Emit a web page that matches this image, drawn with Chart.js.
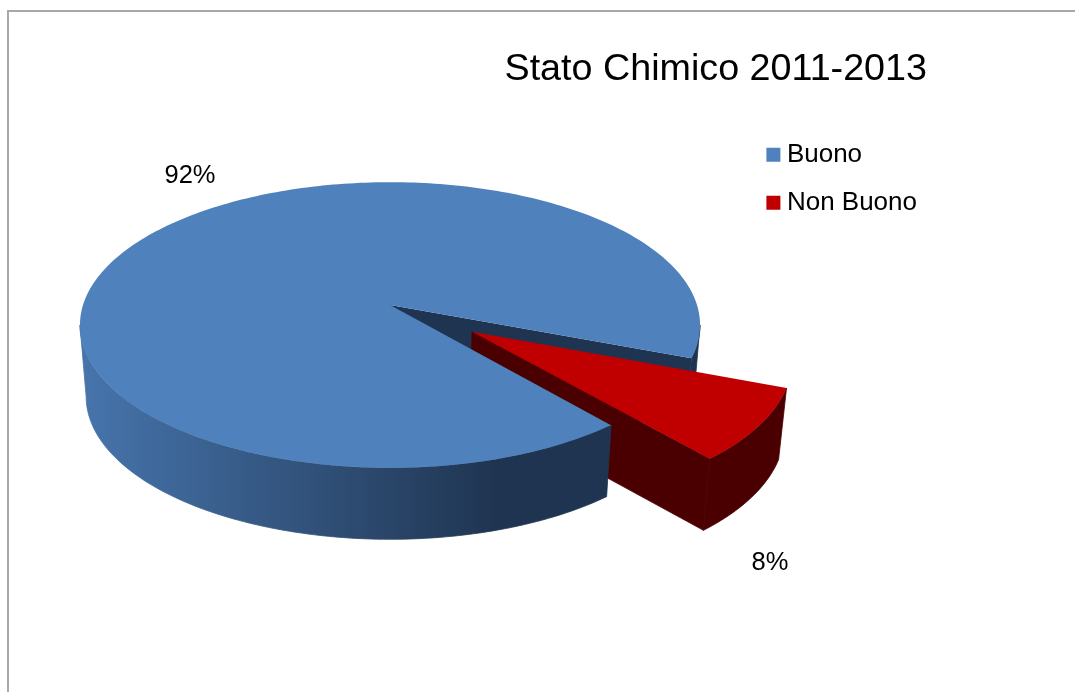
<!DOCTYPE html>
<html lang="it">
<head>
    <meta charset="UTF-8">
    <title>Stato Chimico 2011-2013</title>
    <style>
      body { margin: 0; background: #fff; overflow: hidden; }
      #frame { position: absolute; left: 7px; top: 10px; width: 1100px; height: 720px; border-left: 2px solid #a8a8a8; border-top: 2px solid #a8a8a8; }
      canvas { position: absolute; left: 0; top: 0; }
    </style>
    <script src="https://cdn.jsdelivr.net/npm/chart.js"></script>
</head>
<body>
    <div id="frame"></div>
    <canvas id="chart" width="1075" height="692"></canvas>
    <script>
    const chartTitle = 'Stato Chimico 2011-2013';
    const categories = ['Buono', 'Non Buono'];
    const values = [92, 8];
    const sliceColors = ['#4f81bd', '#c00000'];

    // Tilted disc: where the centre lands, its radii and the perspective strength
    const disc = { x: 390, y: 305, rx: 307, ry: 140, persp: 0.14, depth: 71.5, taper: 0.98 };
    const explode = [0, 0.32];
    const percentAnchors = [[190, 176], [770, 563]];

    function topPoint(angle, radius, shift) {
      const u = shift.u + radius * Math.cos(angle);
      const v = shift.v + radius * Math.sin(angle);
      const w = 1 - disc.persp * v;
      return [disc.x + disc.rx * u / w, disc.y + disc.ry * v / w];
    }

    function lowerPoint(p) {
      return [disc.x + (p[0] - disc.x) * disc.taper, p[1] + disc.depth];
    }

    function rim(from, to, shift) {
      const steps = Math.max(2, Math.ceil(Math.abs(to - from) / 0.02));
      const pts = [];
      for (let i = 0; i <= steps; i++) {
        pts.push(topPoint(from + (to - from) * i / steps, 1, shift));
      }
      return pts;
    }

    function fillPoly(ctx, pts, color, seal) {
      ctx.beginPath();
      pts.forEach((p, i) => i ? ctx.lineTo(p[0], p[1]) : ctx.moveTo(p[0], p[1]));
      ctx.closePath();
      ctx.fillStyle = color;
      ctx.fill();
      // thin stroke so neighbouring wall pieces leave no light seam
      if (seal) {
        ctx.strokeStyle = color;
        ctx.lineWidth = 0.8;
        ctx.stroke();
      }
    }

    // Outer wall between two angles: upper rim forward, lower rim back
    function wall(ctx, from, to, shift, color) {
      const upper = rim(from, to, shift);
      fillPoly(ctx, upper.concat(upper.map(lowerPoint).reverse()), color, true);
    }

    const pie3d = {
      id: 'pie3d',
      beforeDatasetsDraw(chart) {
        const ctx = chart.ctx;
        const arcs = chart.getDatasetMeta(0).data;
        const shifts = arcs.map((arc, i) => {
          const mid = (arc.startAngle + arc.endAngle) / 2;
          return { u: explode[i] * Math.cos(mid), v: explode[i] * Math.sin(mid) };
        });
        const [big, small] = arcs;

        const wallShade = ctx.createLinearGradient(85, 0, 500, 0);
        wallShade.addColorStop(0, '#4674ab');
        wallShade.addColorStop(1, '#1f3450');

        // Angle where the rim turns around at the far left and far right;
        // past it the wall is behind the top face and needs no drawing
        const turn = Math.asin(disc.persp);

        // Cut face of the big slice, seen through the gap
        const apex = topPoint(0, 0, shifts[0]);
        const cutEnd = topPoint(big.endAngle, 1, shifts[0]);
        fillPoly(ctx, [apex, cutEnd, lowerPoint(cutEnd), lowerPoint(apex)], '#1f3450');
        wall(ctx, 2 * Math.PI + turn, big.endAngle, shifts[0], '#1f3450');

        // Small slice: its walls, then its top
        const smallApex = topPoint(0, 0, shifts[1]);
        const smallFront = topPoint(small.endAngle, 1, shifts[1]);
        wall(ctx, small.startAngle, small.endAngle, shifts[1], '#4a0000');
        fillPoly(ctx, [smallApex, smallFront, lowerPoint(smallFront), lowerPoint(smallApex)], '#4a0000', true);
        fillPoly(ctx, [smallApex].concat(rim(small.startAngle, small.endAngle, shifts[1])), small.options.backgroundColor);

        // Big slice goes over the small one's inner wall
        wall(ctx, big.startAngle, Math.PI - turn, shifts[0], wallShade);
        fillPoly(ctx, [apex].concat(rim(big.startAngle, big.endAngle, shifts[0])), big.options.backgroundColor);

        // Percent labels
        const total = values.reduce((sum, v) => sum + v, 0);
        ctx.font = '25.5px "Liberation Sans"';
        ctx.fillStyle = '#000';
        ctx.textAlign = 'center';
        ctx.textBaseline = 'middle';
        values.forEach((v, i) => {
          ctx.fillText(Math.round(v / total * 100) + '%', percentAnchors[i][0], percentAnchors[i][1]);
        });
        return false;
      }
    };

    new Chart(document.getElementById('chart'), {
      type: 'pie',
      data: {
        labels: categories,
        datasets: [{ data: values, backgroundColor: sliceColors, borderWidth: 0 }]
      },
      options: {
        responsive: false,
        animation: false,
        rotation: 140,
        layout: { padding: { top: 47, right: 148 } },
        plugins: {
          tooltip: { enabled: false },
          title: {
            display: true,
            text: chartTitle,
            align: 'end',
            color: '#000',
            font: { family: '"Liberation Sans"', size: 37.7, weight: 'normal' },
            padding: { top: 0, bottom: 27.5 }
          },
          legend: {
            position: 'right',
            align: 'start',
            fullSize: false,
            labels: {
              color: '#000',
              font: { family: '"Liberation Sans"', size: 26 },
              usePointStyle: true,
              pointStyle: 'rect',
              boxWidth: 1,
              boxHeight: 14,
              padding: 22
            }
          }
        }
      },
      plugins: [pie3d]
    });
    </script>
</body>
</html>
